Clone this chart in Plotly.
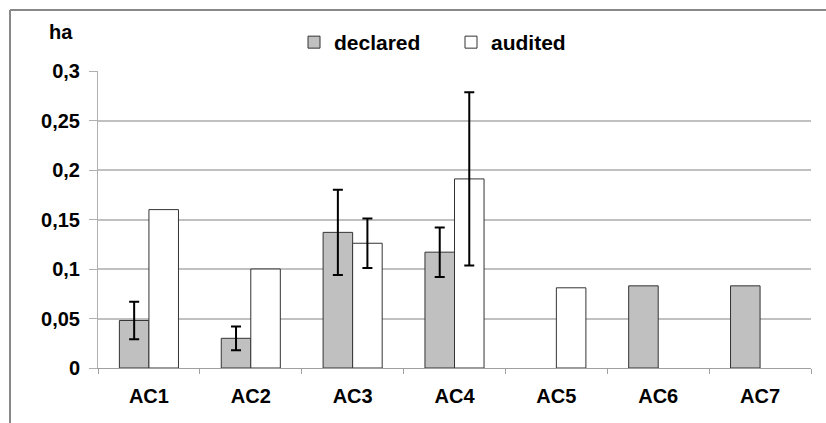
import plotly.graph_objects as go

# Plot area in pixels (826 x 423 page)
W, H = 826, 423
L, R, T, B = 98, 15, 71, 55

categories = ["AC1", "AC2", "AC3", "AC4", "AC5", "AC6", "AC7"]
declared = [0.048, 0.030, 0.137, 0.117, None, 0.083, 0.083]
declared_err = [0.019, 0.012, 0.043, 0.025, None, None, None]
audited = [0.160, 0.100, 0.126, 0.191, 0.081, None, None]
audited_err = [None, None, 0.025, 0.0875, None, None, None]

y_ticks = [0, 0.05, 0.1, 0.15, 0.2, 0.25, 0.3]
y_tick_labels = ["0", "0,05", "0,1", "0,15", "0,2", "0,25", "0,3"]

FONT = "Liberation Sans"
bold = dict(family=FONT, size=20, color="#000000", weight="bold")
legend_font = dict(family=FONT, size=21, color="#000000", weight="bold")


def split(values, errors):
    """Split a series into the bars carrying an error bar and the rest."""
    with_err = [v if e is not None else None for v, e in zip(values, errors)]
    without = [v if e is None else None for v, e in zip(values, errors)]
    return with_err, list(errors), without


fig = go.Figure()
series = [
    ("declared", declared, declared_err, "#c0c0c0"),
    ("audited", audited, audited_err, "#ffffff"),
]
for name, vals, errs, color in series:
    with_err, err_arr, without = split(vals, errs)
    marker = dict(color=color, line=dict(color="#333333", width=1))
    fig.add_trace(go.Bar(
        name=name, x=categories, y=without, marker=marker,
        offsetgroup=name, legendgroup=name, showlegend=True,
    ))
    fig.add_trace(go.Bar(
        name=name, x=categories, y=with_err, marker=marker,
        offsetgroup=name, legendgroup=name, showlegend=False,
        error_y=dict(type="data", array=err_arr, visible=True,
                     color="#000000", thickness=2, width=5),
    ))

pw = W - L - R
ph = H - T - B


def px_x(x):
    return (x - L) / pw


def px_y(y):
    return (H - B - y) / ph


fig.update_layout(
    width=W, height=H,
    margin=dict(l=L, r=R, t=T, b=B, pad=0),
    paper_bgcolor="#ffffff", plot_bgcolor="#ffffff",
    barmode="group", bargap=0.42, bargroupgap=0,
    font=bold,
    showlegend=True,
    legend=dict(orientation="h", x=px_x(294), y=px_y(22),
                xanchor="left", yanchor="top",
                font=legend_font, bgcolor="rgba(0,0,0,0)",
                itemwidth=30, entrywidth=112, traceorder="normal"),
    xaxis=dict(
        type="category", showline=True, linecolor="#a0a0a0", linewidth=1,
        ticks="outside", tickson="boundaries", ticklen=5, tickcolor="#a0a0a0",
        showgrid=False, tickfont=bold, ticklabelstandoff=10,
    ),
    yaxis=dict(
        range=[0, 0.3], tickvals=y_ticks, ticktext=y_tick_labels,
        showline=True, linecolor="#b0b0b0", linewidth=1,
        ticks="outside", ticklen=8, tickcolor="#b0b0b0",
        showgrid=True, gridcolor="#c0c0c0", gridwidth=2,
        zeroline=False, tickfont=bold, ticklabelstandoff=5,
    ),
    annotations=[dict(
        text="ha", xref="paper", yref="paper",
        x=px_x(61), y=px_y(32), xanchor="center", yanchor="middle",
        showarrow=False, font=bold,
    )],
    shapes=[
        # outer frame (top and left edges)
        dict(type="line", xref="paper", yref="paper",
             x0=px_x(10), x1=px_x(W + 5), y0=px_y(10), y1=px_y(10),
             line=dict(color="#888888", width=2)),
        dict(type="line", xref="paper", yref="paper",
             x0=px_x(10), x1=px_x(10), y0=px_y(10), y1=px_y(H + 5),
             line=dict(color="#888888", width=2)),
    ],
)

fig.write_html("out.html")
